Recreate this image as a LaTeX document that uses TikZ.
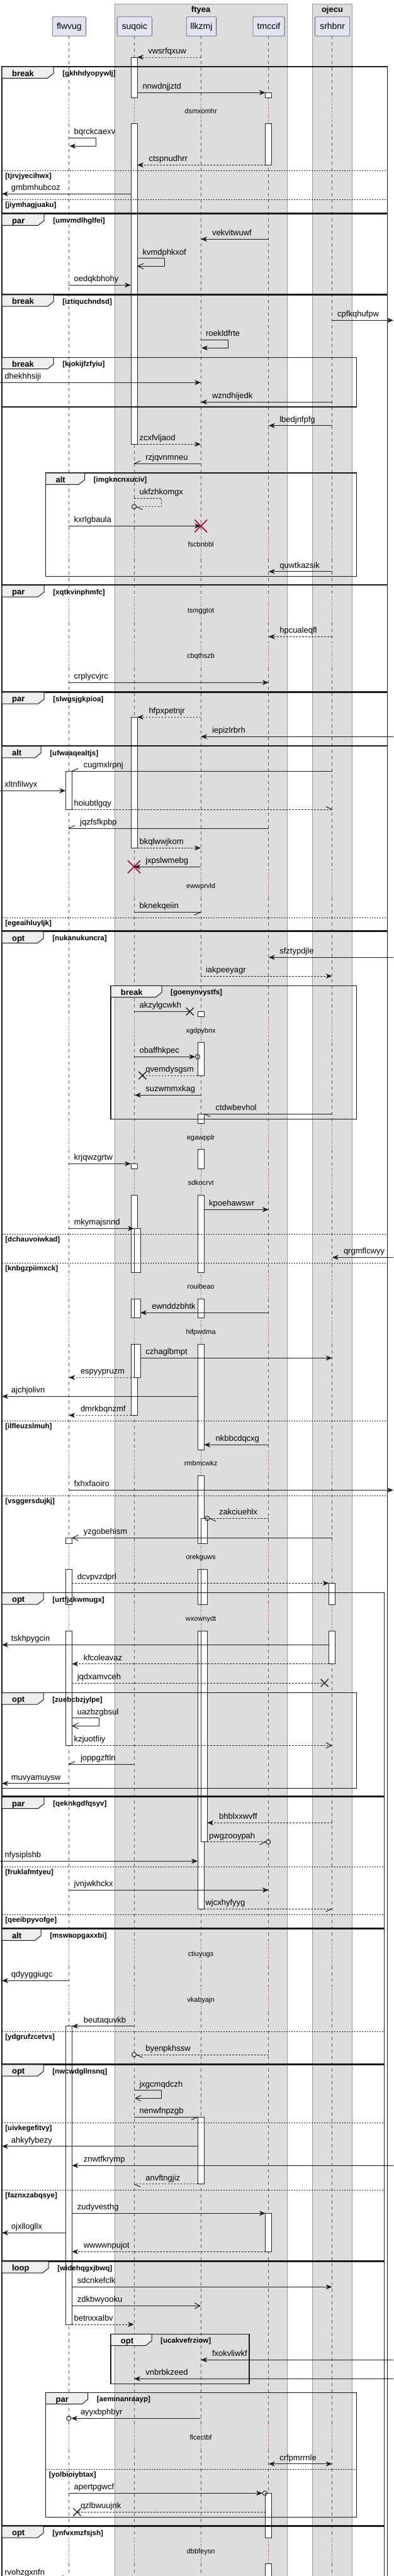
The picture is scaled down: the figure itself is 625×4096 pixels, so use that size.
\documentclass[tikz,border=0pt]{standalone}
\usepackage{fontspec}
\setmainfont{Liberation Sans}
\usetikzlibrary{arrows.meta}
\definecolor{partfill}{HTML}{E2E2F0}
\definecolor{boxfill}{HTML}{DDDDDD}
\definecolor{boxline}{HTML}{999999}
\definecolor{tabfill}{HTML}{EEEEEE}
\definecolor{delayred}{HTML}{A80036}
\newcounter{nd}
\def\XA{109.3}\def\XB{213}\def\XC{319.1}\def\XD{426.8}\def\XE{527.7}
\def\dashsegs{57.3/155.7,196.7/842,889/949,990/1021,1062/1383.3,1426.7/1616.7,1657.7/1786.7,1827.7/1858.7,1900/2023.3,2065/2095.3,2137.3/2305.7,2346/2454,2495/2551.7,2593.3/3085,3126/3158,3199/3854,3895/4035,4076/4110}
\def\delsegs{155.7/196.7,842/889,949/990,1021/1062,1383.3/1426.7,1616.7/1657.7,1786.7/1827.7,1858.7/1900,2023.3/2065,2095.3/2137.3,2305.7/2346,2454/2495,2551.7/2593.3,3085/3126,3158/3199,3854/3895,4035/4076}
\tikzset{
  part/.style={draw=black!60, fill=partfill, rounded corners=2pt, line width=0.8pt, minimum height=30.6pt, inner sep=0pt, font=\fontsize{14}{16}\selectfont, text height=11.6pt, text depth=3pt},
  gbox/.style={fill=boxfill, draw=boxline, line width=1pt},
  boxt/.style={anchor=base, inner sep=0pt, font=\bfseries\fontsize{13}{15}\selectfont},
  lifel/.style={draw=black!65, line width=0.8pt, dash pattern=on 5pt off 5pt},
  dlyl/.style={draw=delayred, line width=0.8pt, dash pattern=on 1pt off 2.5pt},
  actbox/.style={fill=white, draw=black!85, line width=1pt},
  frmsty/.style={draw=black!90, line width=1.5pt},
  tabsty/.style={fill=tabfill, draw=black!90, line width=1pt},
  kindl/.style={anchor=base west, inner sep=0pt, font=\bfseries\fontsize{13}{15}\selectfont},
  guardl/.style={anchor=base west, inner sep=0pt, font=\bfseries\fontsize{11.5}{13}\selectfont},
  sepl/.style={draw=black!90, line width=1pt, dash pattern=on 2pt off 2pt},
  dlyt/.style={anchor=base, inner sep=0pt, font=\fontsize{11}{13}\selectfont},
  lbl/.style={anchor=base west, inner sep=0pt, font=\fontsize{13}{15}\selectfont},
  msgl/.style={draw=black!88, line width=1pt},
  dsh/.style={dash pattern=on 2.5pt off 2.5pt},
  fhead/.style={-{Stealth[length=10pt,width=8pt,inset=3pt]}},
  bhead/.style={{Stealth[length=10pt,width=8pt,inset=3pt]}-{Stealth[length=10pt,width=8pt,inset=3pt]}},
  ohead/.style={-{Straight Barb[length=9pt,width=9pt]}},
}
\newcommand\Lb[3]{\stepcounter{nd}\node[lbl] (n\arabic{nd}) at (#1,{#2-5.5}) {#3};}
\newcommand\Ms[4][]{\draw[msgl,#1] (#2,#4) -- (#3,#4);}
\newcommand\Hb[4]{\draw[msgl] (#1,#2) -- ++({#3*10},{#4*4.5});}
\newcommand\Cir[2]{\draw[msgl] (#1,#2) circle[radius=3.6pt];}
\newcommand\Xr[2]{\draw[draw=delayred, line width=1.6pt] ({#1-10},{#2-10}) -- ({#1+10},{#2+10}) ({#1-10},{#2+10}) -- ({#1+10},{#2-10});}
\newcommand\Xk[2]{\draw[draw=black!88, line width=1.4pt] ({#1-6},{#2-6}) -- ({#1+6},{#2+6}) ({#1-6},{#2+6}) -- ({#1+6},{#2-6});}
\newcommand\Act[3]{\draw[actbox] (#1,#2) rectangle ({#1+10},#3);}
\newcommand\Dt[2]{\stepcounter{nd}\node[dlyt] (n\arabic{nd}) at (319.1,{#1+4}) {#2};}
\newcommand\Frm[7]{%
  \draw[frmsty] (#1,#2) rectangle (#3,#4);
  \filldraw[tabsty] (#1,#2) -- ({#1+#6},#2) -- ({#1+#6},{#2+10.7}) -- ({#1+#6-9.6},{#2+18.3}) -- (#1,{#2+18.3}) -- cycle;
  \stepcounter{nd}\node[kindl] (n\arabic{nd}) at ({#1+15.7},{#2+15}) {#5};
  \stepcounter{nd}\node[guardl] (n\arabic{nd}) at ({#1+#6+14},{#2+14.5}) {#7};}
\newcommand\Sep[4]{\draw[sepl] (#1,#3) -- (#2,#3);
  \stepcounter{nd}\node[guardl] (n\arabic{nd}) at ({#1+5},{#3+12}) {#4};}
\begin{document}
\begin{tikzpicture}[x=1pt,y=-1pt]
\useasboundingbox (0,0) rectangle (625,4096);
\fill[white] (0,0) rectangle (625,4096);
% boxes
\filldraw[gbox] (182.1,6) rectangle (456.1,4120);
\filldraw[gbox] (496.3,6) rectangle (559.8,4120);
\node[boxt] (bt1) at (319.1,19.5) {ftyea};
\node[boxt] (bt2) at (528,19.5) {ojecu};
% participants
\node[part, minimum width=53.4pt] (pA) at (109.9,42) {flwvug};
\node[part, minimum width=55.4pt] (pB) at (213.8,42) {suqoic};
\node[part, minimum width=47.4pt] (pC) at (319.9,42) {llkzmj};
\node[part, minimum width=50.2pt] (pD) at (427,42) {tmccif};
\node[part, minimum width=55.4pt] (pE) at (528.1,42) {srhbnr};
% lifelines
\foreach \lx in {109.3,213,319.1,426.8,527.7}{
  \foreach \a/\b in \dashsegs {\draw[lifel] (\lx,\a) -- (\lx,\b);}
  \foreach \a/\b in \delsegs {\draw[dlyl] (\lx,\a) -- (\lx,\b);}
}
% activations
\Act{208}{91}{155.7}\Act{208}{196.7}{706.3}\Act{208}{1140.3}{1348.3}
\Act{208}{1850.3}{1858.7}\Act{208}{1900}{2023.3}\Act{208}{2065}{2095.3}\Act{208}{2137.3}{2250.3}
\Act{213}{1953.3}{2023.3}\Act{213}{2065}{2095.3}\Act{213}{2137.3}{2190.3}
\Act{421.8}{147.3}{155.7}\Act{421.8}{196.7}{262.3}\Act{421.8}{3519.3}{3580.3}
\Act{421.8}{3964.3}{4035}\Act{421.8}{4076}{4120}
\Act{314.1}{1608.3}{1616.7}\Act{314.1}{1657.7}{1710}\Act{314.1}{1771}{1786.7}
\Act{314.1}{1827.7}{1858.7}\Act{314.1}{1900}{2023.3}\Act{314.1}{2065}{2095.3}
\Act{314.1}{2137.3}{2305.7}\Act{314.1}{2346}{2454}\Act{314.1}{2495}{2551.7}
\Act{314.1}{2593.3}{3035}\Act{314.1}{3366}{3472.7}
\Act{319.1}{2414.3}{2454}\Act{319.1}{2495}{2551.7}\Act{319.1}{2593.3}{2928.7}
\Act{104.3}{1226.3}{1287}\Act{104.3}{2445.3}{2454}\Act{104.3}{2495}{2551.7}
\Act{104.3}{2593.3}{2775.3}\Act{104.3}{3221.7}{3696}
\Act{522.7}{2517.3}{2551.7}\Act{522.7}{2593.3}{2645.7}
% frames
\Frm{3.2}{106}{615.3}{338.7}{break}{82}{[gkhhdyopywlj]}
\Sep{3.2}{615.3}{271}{[tjrvjyecihwx]}
\Sep{3.2}{615.3}{317}{[jiymhagjuaku]}
\Frm{3.2}{340}{615.3}{467.8}{par}{67}{[umvmdlhglfei]}
\Frm{3.2}{468.8}{615.3}{929.3}{break}{82}{[iztiquchndsd]}
\Frm{3.2}{568.3}{566.3}{647}{break}{82}{[kjokijfzfyiu]}
\Frm{72.7}{752}{566.3}{916.7}{alt}{62}{[imgkncnxuciv]}
\Frm{3.2}{930.7}{615.3}{1099.8}{par}{67}{[xqtkvinphmfc]}
\Frm{3.2}{1100.8}{615.3}{1185.5}{par}{67}{[slwgsjgkpioa]}
\Frm{3.2}{1186.5}{615.3}{1480.2}{alt}{62}{[ufwaaqealtjs]}
\Sep{3.2}{615.3}{1459.3}{[egeaihluyljk]}
\Frm{3.2}{1481.2}{615.3}{4130}{opt}{66}{[nukanukuncra]}
\Frm{176}{1567.3}{566.3}{1779.3}{break}{81}{[goenynvystfs]}
\Sep{3.2}{615.3}{1962.3}{[dchauvoiwkad]}
\Sep{3.2}{615.3}{2008.3}{[knbgzpiimxck]}
\Sep{3.2}{615.3}{2259.3}{[ilfleuzslmuh]}
\Sep{3.2}{615.3}{2378.3}{[vsggersdujkj]}
\Frm{3.2}{2532.7}{610.5}{2856}{opt}{66}{[urtfjakwmugx]}
\Frm{3.2}{2691.7}{566.3}{2843.3}{opt}{66}{[zuebcbzjylpe]}
\Frm{3.2}{2857.3}{610.5}{3066}{par}{67}{[qeknkgdfqsyv]}
\Sep{3.2}{610.5}{2968.3}{[fruklafmtyeu]}
\Sep{3.2}{610.5}{3044}{[qeeibpyvofge]}
\Frm{3.2}{3067}{610.5}{3281.8}{alt}{62}{[mswaopgaxxbi]}
\Sep{3.2}{610.5}{3230.3}{[ydgrufzcetvs]}
\Frm{3.2}{3282.8}{610.5}{3594.8}{opt}{66}{[nwcwdgllnsnq]}
\Sep{3.2}{610.5}{3375}{[uivkegefitvy]}
\Sep{3.2}{610.5}{3482}{[faznxzabqsye]}
\Frm{3.2}{3595.8}{610.5}{4015.7}{loop}{74}{[widehqgxjbwq]}
\Frm{176}{3711.3}{395.9}{3790.7}{opt}{65}{[ucakvefrziow]}
\Frm{72.7}{3804.3}{566.3}{4002.3}{par}{67}{[aeminanraayp]}
\Sep{72.7}{566.3}{3926.3}{[yolbioiybtax]}
\Frm{3.2}{4016.7}{610.5}{4125}{opt}{66}{[ynfvxmzfsjsh]}
% delay texts
\Dt{176}{dsmxomhr}\Dt{865.7}{fscbnbbl}\Dt{970}{tsmggtot}\Dt{1042.3}{cbqthszb}
\Dt{1408.3}{ewwprvld}\Dt{1638.3}{xgdpybnx}\Dt{1808.3}{egawpplr}\Dt{1880}{sdkocrvt}
\Dt{2045}{rouibeao}\Dt{2117.3}{hifpwdma}\Dt{2326}{rmbmcwkz}\Dt{2475.7}{orekguws}
\Dt{2573.3}{wxownydt}\Dt{3106}{ctiuyugs}\Dt{3179}{vkabyajn}\Dt{3875}{flcectbf}\Dt{4056}{dbbfeysn}
% messages
\Ms[dsh,fhead]{\XC}{218}{91}\Lb{235.1}{91}{vwsrfqxuw}
\Ms[fhead]{218}{421.8}{147.3}\Lb{226.3}{147.3}{nnwdnjjztd}
\draw[msgl,fhead] (\XA,219.3) -- (152.7,219.3) -- (152.7,232.3) -- (110.3,232.3);\Lb{117.4}{219.3}{bqrckcaexv}
\Ms[dsh,fhead]{421.8}{218}{262.3}\Lb{236.3}{262.3}{ctspnudhrr}
\Ms[fhead]{208}{3}{308.3}\Lb{17.7}{308.3}{gmbmhubcoz}
\Ms[fhead]{\XD}{\XC}{380.3}\Lb{336.8}{380.3}{vekvitwuwf}
\draw[msgl,ohead] (218,410.7) -- (261.6,410.7) -- (261.6,423.3) -- (218,423.3);\Lb{226.3}{410.7}{kvmdphkxof}
\Ms[fhead]{\XA}{208}{453.3}\Lb{117.4}{453.3}{oedqkbhohy}
\Ms[fhead]{\XE}{625}{509.3}\Lb{536}{509.3}{cpfkqhufpw}
\draw[msgl,fhead] (\XC,540.3) -- (362.9,540.3) -- (362.9,553.3) -- (320.1,553.3);\Lb{326.8}{540.3}{roekldfrte}
\Ms[fhead]{0}{\XC}{608.3}\Lb{7.2}{608.3}{dhekhhsiji}
\Ms[fhead]{\XE}{\XC}{639.3}\Lb{336.8}{639.3}{wzndhijedk}
\Ms[fhead]{\XE}{\XD}{676.7}\Lb{444.1}{676.7}{lbedjnfpfg}
\Ms[dsh,fhead]{218}{\XC}{706.3}\Lb{221.4}{706.3}{zcxfvljaod}
\Ms{\XC}{\XB}{737.3}\Hb{\XB}{737.3}{1}{-1}\Lb{231.1}{737.3}{rzjqvnmneu}
\draw[msgl,dsh] (\XB,792.3) -- (256.4,792.3) -- (256.4,805.7) -- (216.6,805.7);\Cir{\XB}{805.7}\Hb{216.6}{805.7}{1}{1}\Lb{221.4}{792.3}{ukfzhkomgx}
\Ms[fhead]{\XA}{\XC}{836.3}\Xr{\XC}{836.3}\Lb{117.4}{836.3}{kxrlgbaula}
\Ms[fhead]{\XE}{\XD}{908.7}\Lb{444.1}{908.7}{quwtkazsik}
\Ms[dsh,fhead]{\XE}{\XD}{1012.3}\Lb{444.1}{1012.3}{hpcualeqfl}
\Ms[fhead]{\XA}{\XD}{1085.3}\Lb{117.4}{1085.3}{crplycvjrc}
\Ms[dsh,fhead]{\XC}{218}{1140.3}\Lb{236.3}{1140.3}{hfpxpetnjr}
\Ms[fhead]{625}{\XC}{1171.3}\Lb{336.8}{1171.3}{iepizlrbrh}
\Ms{\XE}{114.3}{1226.3}\Hb{114.3}{1226.3}{1}{-1}\Lb{132.6}{1226.3}{cugmxlrpnj}
\Ms[fhead]{0}{104.3}{1257.3}\Lb{7.2}{1257.3}{xltnfilwyx}
\Ms[dsh]{114.3}{\XE}{1287}\Hb{\XE}{1287}{-1}{-1}\Lb{117.4}{1287}{hoiubtlgqy}
\Ms{\XD}{\XA}{1317}\Hb{\XA}{1317}{1}{-1}\Lb{127}{1317}{jqzfsfkpbp}
\Ms[dsh,fhead]{218}{\XC}{1348.3}\Lb{221.4}{1348.3}{bkqlwwjkom}
\Ms[fhead]{\XC}{\XB}{1378.3}\Xr{\XB}{1378.3}\Lb{231.1}{1378.3}{jxpslwmebg}
\Ms{\XB}{\XC}{1450.3}\Hb{\XC}{1450.3}{-1}{1}\Lb{221.4}{1450.3}{bknekqeiin}
\Ms[fhead]{625}{\XD}{1522.3}\Lb{444.1}{1522.3}{sfztypdjle}
\Ms[dsh,fhead]{\XC}{\XE}{1552}\Lb{326.8}{1552}{iakpeeyagr}
\Ms{\XB}{301.8}{1608.3}\Xk{301.8}{1608.3}\Lb{221.4}{1608.3}{akzylgcwkh}
\Ms[fhead]{\XB}{310.3}{1680.3}\Cir{313.9}{1680.3}\Lb{221.4}{1680.3}{obaffhkpec}
\Ms[dsh]{314.1}{226.3}{1710}\Xk{226.3}{1710}\Lb{231.1}{1710}{qvemdysgsm}
\Ms[fhead]{\XC}{214}{1741.3}\Lb{231.1}{1741.3}{suzwmmxkag}
\Ms{\XE}{324.1}{1771}\Hb{324.1}{1771}{1}{1}\Lb{342.4}{1771}{ctdwbevhol}
\Ms[fhead]{\XA}{208}{1850.3}\Lb{117.4}{1850.3}{krjqwzgrtw}
\Ms[fhead]{324.1}{\XD}{1923.3}\Lb{332}{1923.3}{kpoehawswr}
\Ms[fhead]{\XA}{213}{1953.3}\Lb{117.4}{1953.3}{mkymajsnnd}
\Ms[fhead]{625}{\XE}{1999.3}\Lb{545.8}{1999.3}{qrgmflcwyy}
\Ms[fhead]{\XD}{223}{2087.3}\Lb{241.1}{2087.3}{ewnddzbhtk}
\Ms[fhead]{223}{\XE}{2159.3}\Lb{231.1}{2159.3}{czhaglbmpt}
\Ms[dsh,fhead]{213}{\XA}{2190.3}\Lb{127.8}{2190.3}{espyypruzm}
\Ms[fhead]{314.1}{3}{2220.3}\Lb{17.7}{2220.3}{ajchjolivn}
\Ms[dsh,fhead]{208}{\XA}{2250.3}\Lb{127.8}{2250.3}{dmrkbqnzmf}
\Ms[fhead]{\XD}{324.1}{2297.3}\Lb{342.4}{2297.3}{nkbbcdqcxg}
\Ms[fhead]{\XA}{625}{2369.3}\Lb{117.4}{2369.3}{fxhxfaoiro}
\Ms[dsh]{\XD}{333.2}{2414.3}\Cir{329.2}{2414.3}\Hb{333.2}{2414.3}{1}{1}\Lb{348}{2414.3}{zakciuehlx}
\Ms[ohead]{\XE}{114.3}{2445.3}\Lb{132.6}{2445.3}{yzgobehism}
\Ms[dsh,fhead]{114.3}{522.7}{2517.3}\Lb{122.6}{2517.3}{dcvpvzdprl}
\Ms[fhead]{522.7}{3}{2615.3}\Lb{17.7}{2615.3}{tskhpygcin}
\Ms[dsh,fhead]{522.7}{114.3}{2645.7}\Lb{132.6}{2645.7}{kfcoleavaz}
\Ms[dsh]{114.3}{515.7}{2676}\Xk{515.7}{2676}\Lb{122.6}{2676}{jqdxamvceh}
\draw[msgl,ohead] (114.3,2731.7) -- (157.5,2731.7) -- (157.5,2744.3) -- (114.3,2744.3);\Lb{122.6}{2731.7}{uazbzgbsul}
\Ms[dsh,ohead]{114.3}{\XE}{2775.3}\Lb{117.4}{2775.3}{kzjuotfiiy}
\Ms{\XB}{\XA}{2805.3}\Hb{\XA}{2805.3}{1}{-1}\Lb{127.8}{2805.3}{joppgzftln}
\Ms[fhead]{\XA}{3}{2835.7}\Lb{17.7}{2835.7}{muvyamuysw}
\Ms[dsh,fhead]{\XE}{329.1}{2898.3}\Lb{348}{2898.3}{bhblxxwvff}
\Ms[dsh]{329.1}{422.3}{2928.7}\Cir{426.1}{2928.7}\Hb{422.3}{2928.7}{-1}{1}\Lb{332}{2928.7}{pwgzooypah}
\Ms[fhead]{0}{314.1}{2959.3}\Lb{7.2}{2959.3}{nfysiplshb}
\Ms[fhead]{\XA}{\XD}{3005.3}\Lb{117.4}{3005.3}{jvnjwkhckx}
\Ms[dsh]{324.1}{\XE}{3035}\Hb{\XE}{3035}{-1}{1}\Lb{326.4}{3035}{wjcxhyfyyg}
\Ms[fhead]{\XA}{3}{3149.3}\Lb{17.7}{3149.3}{qdyyggiugc}
\Ms[fhead]{\XB}{114.3}{3221.7}\Lb{132.6}{3221.7}{beutaquvkb}
\Ms[dsh]{\XD}{216.6}{3267}\Cir{\XB}{3267}\Hb{216.6}{3267}{1}{1}\Lb{231.1}{3267}{byenpkhssw}
\draw[msgl,ohead] (\XB,3323.7) -- (256.4,3323.7) -- (256.4,3336.3) -- (214,3336.3);\Lb{221.4}{3323.7}{jxgcmqdczh}
\Ms{\XB}{314.1}{3366}\Hb{314.1}{3366}{-1}{1}\Lb{221.4}{3366}{nenwfnpzgb}
\Ms[fhead]{314.1}{3}{3412.7}\Lb{17.7}{3412.7}{ahkyfybezy}
\Ms[fhead]{625}{114.3}{3443.3}\Lb{132.6}{3443.3}{znwtfkrymp}
\Ms[dsh]{314.1}{\XB}{3472.7}\Hb{\XB}{3472.7}{1}{1}\Lb{231.1}{3472.7}{anvftngjiz}
\Ms[fhead]{114.3}{421.8}{3519.3}\Lb{122.6}{3519.3}{zudyvesthg}
\Ms[fhead]{104.3}{3}{3550.3}\Lb{17.7}{3550.3}{ojxllogllx}
\Ms[dsh,fhead]{421.8}{114.3}{3580.3}\Lb{132.6}{3580.3}{wwwwnpujot}
\Ms[fhead]{114.3}{\XE}{3636.3}\Lb{122.6}{3636.3}{sdcnkefclk}
\Ms[ohead]{114.3}{\XC}{3666.3}\Lb{122.6}{3666.3}{zdkbwyooku}
\Ms[dsh,fhead]{114.3}{\XB}{3696}\Lb{117.4}{3696}{betnxxalbv}
\Ms[fhead]{625}{\XC}{3752.3}\Lb{336.8}{3752.3}{fxokvliwkf}
\Ms[fhead]{625}{\XB}{3782.3}\Lb{231.1}{3782.3}{vnbrbkzeed}
\Ms[fhead]{\XC}{113.1}{3845.3}\Cir{\XA}{3845.3}\Lb{127.8}{3845.3}{ayyxbphbyr}
\Ms[bhead]{\XD}{\XE}{3917.7}\Lb{444.1}{3917.7}{crfpmrrnle}
\Ms[fhead]{\XA}{417}{3964.3}\Cir{420.8}{3964.3}\Lb{117.4}{3964.3}{apertpgwcf}
\Ms[dsh]{421.8}{122.6}{3994.3}\Xk{122.6}{3994.3}\Lb{127.8}{3994.3}{qzlbwuujnk}
\Ms{0}{\XA}{4100}\Hb{\XA}{4100}{-1}{-1}\Lb{7.2}{4100}{rvohzgxnfn}
\end{tikzpicture}
\end{document}
